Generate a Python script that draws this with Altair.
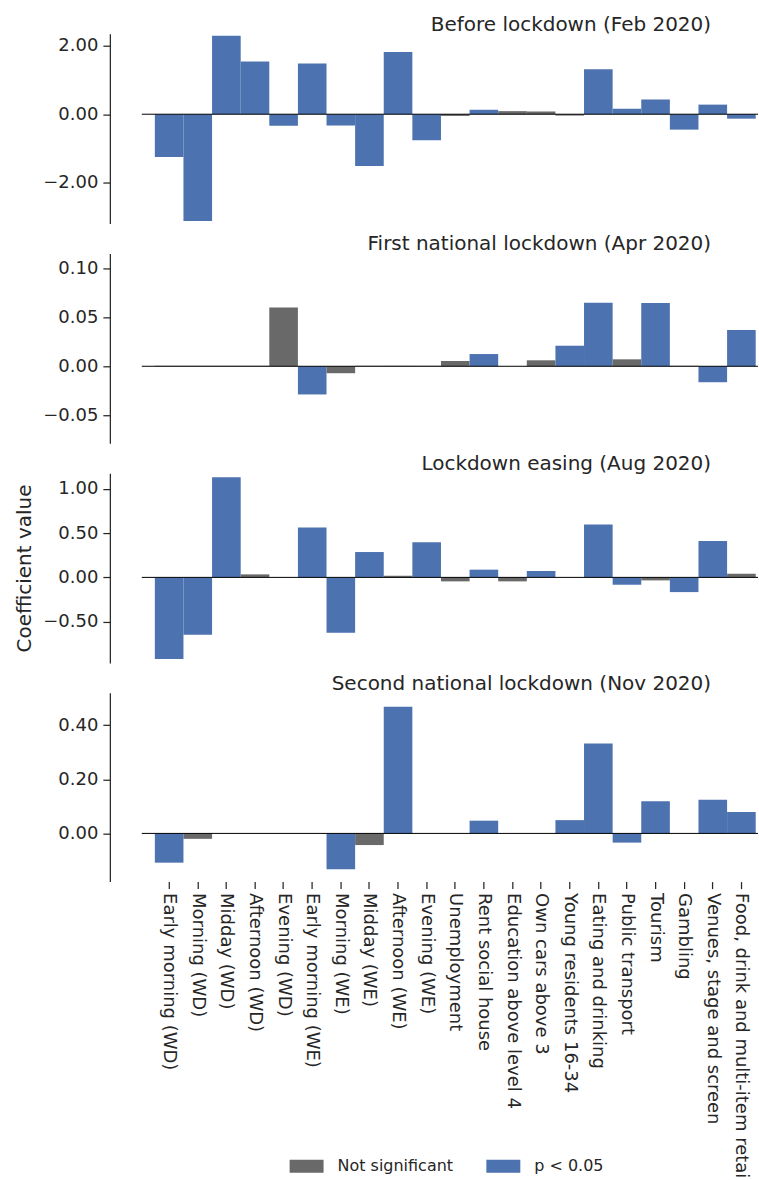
import altair as alt
import pandas as pd

categories = [
    "Early morning (WD)", "Morning (WD)", "Midday (WD)", "Afternoon (WD)", "Evening (WD)",
    "Early morning (WE)", "Morning (WE)", "Midday (WE)", "Afternoon (WE)", "Evening (WE)",
    "Unemployment", "Rent social house", "Education above level 4", "Own cars above 3",
    "Young residents 16-34", "Eating and drinking", "Public transport", "Tourism", "Gambling",
    "Venues, stage and screen", "Food, drink and multi-item retai",
]

period_titles = [
    "Before lockdown (Feb 2020)",
    "First national lockdown (Apr 2020)",
    "Lockdown easing (Aug 2020)",
    "Second national lockdown (Nov 2020)",
]

feb_values = [-1.25, -3.12, 2.29, 1.54, -0.34, 1.48, -0.33, -1.51, 1.82, -0.76, -0.05,
              0.13, 0.09, 0.08, -0.04, 1.31, 0.16, 0.43, -0.45, 0.28, -0.13]
feb_sig = [1, 1, 1, 1, 1, 1, 1, 1, 1, 1, 0, 1, 0, 0, 0, 1, 1, 1, 1, 1, 1]

apr_values = [0.0005, 0.0005, 0.0005, 0.0005, 0.060, -0.0288, -0.0071, 0.0005, 0.0005, 0.0005,
              0.0054, 0.0125, 0.0, 0.0061, 0.021, 0.065, 0.0071, 0.0647, 0.0005, -0.0163, 0.037]
apr_sig = [0, 0, 0, 0, 0, 1, 0, 0, 0, 0, 0, 1, 0, 0, 1, 1, 0, 1, 0, 1, 1]

aug_values = [-0.92, -0.648, 1.131, 0.034, 0.0, 0.562, -0.626, 0.286, 0.019, 0.396, -0.045,
              0.087, -0.045, 0.072, 0.0, 0.596, -0.083, -0.034, -0.166, 0.411, 0.041]
aug_sig = [1, 1, 1, 0, 0, 1, 1, 1, 0, 1, 0, 1, 0, 1, 0, 1, 1, 0, 1, 1, 0]

nov_values = [-0.108, -0.020, 0.0, 0.0, 0.0, 0.0, -0.132, -0.043, 0.468, 0.0, 0.0,
              0.047, 0.0, 0.0, 0.049, 0.332, -0.034, 0.119, 0.0, 0.124, 0.079]
nov_sig = [1, 0, 0, 0, 0, 0, 1, 0, 1, 0, 0, 1, 0, 0, 1, 1, 1, 1, 0, 1, 1]

y_domains = [[-3.19, 2.35], [-0.0786, 0.1153], [-0.965, 1.176], [-0.178, 0.519]]
y_ticks = [[-2, 0, 2], [-0.05, 0, 0.05, 0.1], [-0.5, 0, 0.5, 1.0], [0, 0.2, 0.4]]
heights = [190, 190, 190, 189]

sig_labels = ["Not significant", "p < 0.05"]
sig_colors = ["#696969", "#4c72b0"]

TXT = "#262626"
FONT = "DejaVu Sans"
W = 617

all_values = [feb_values, apr_values, aug_values, nov_values]
all_sig = [feb_sig, apr_sig, aug_sig, nov_sig]


def panel(i):
    df = pd.DataFrame({
        "feature": categories,
        "coef": all_values[i],
        "significance": [sig_labels[s] for s in all_sig[i]],
    })
    last = i == 3
    if last:
        xaxis = alt.Axis(
            title=None, labelAngle=90, labelFontSize=18, labelColor=TXT, labelFont=FONT,
            labelLimit=400, tickSize=7, tickColor=TXT, tickWidth=1.25, domain=False,
            labelPadding=4, offset=0,
        )
    else:
        xaxis = None
    x = alt.X(
        "feature:N", sort=categories, axis=xaxis,
        scale=alt.Scale(paddingInner=0, paddingOuter=0.268, align=0.85),
    )
    yaxis = alt.Axis(
        values=y_ticks[i], format=".2f", grid=False, offset=32,
        domainColor=TXT, domainWidth=1.25, tickColor=TXT, tickWidth=1.25, tickSize=7,
        labelFontSize=18, labelColor=TXT, labelFont=FONT, labelPadding=5,
        titleFontSize=20, titleFont=FONT, titleColor=TXT, titleFontWeight="normal",
        titlePadding=8,
    )
    ytitle = "Coefficient value" if i == 2 else None
    y = alt.Y(
        "coef:Q", stack=None, axis=yaxis, title=ytitle,
        scale=alt.Scale(domain=y_domains[i], nice=False, zero=False),
    )
    color = alt.Color(
        "significance:N",
        scale=alt.Scale(domain=sig_labels, range=sig_colors),
        legend=alt.Legend(
            title=None, orient="none", direction="horizontal", legendX=148, legendY=1117,
            symbolType="M-1,-0.38L1,-0.38L1,0.38L-1,0.38Z", symbolSize=1156,
            symbolStrokeWidth=0, labelFontSize=16, labelFont=FONT, labelColor=TXT,
            labelOffset=14, columnPadding=33, padding=0,
        ),
    )
    bars = alt.Chart(df).mark_bar().encode(x=x, y=y, color=color)
    zero = alt.Chart(pd.DataFrame({"coef": [0.0]})).mark_rule(
        color="black", strokeWidth=1
    ).encode(y=y)
    return alt.layer(bars, zero).properties(
        width=W, height=heights[i],
        title=alt.TitleParams(
            period_titles[i], anchor="end", frame="group", dx=-47, dy=20, fontSize=20,
            fontWeight="normal", color=TXT, font=FONT, offset=3, baseline="alphabetic",
        ),
    )


chart = alt.vconcat(*[panel(i) for i in range(4)], spacing=30, bounds="flush").resolve_scale(
    y="independent", x="shared", color="shared"
).properties(
    padding={"left": 14, "top": 14, "right": 0, "bottom": 0},
).configure(font=FONT).configure_view(stroke=None)

chart.save("out.html", embed_options={"renderer": "svg", "actions": False})
